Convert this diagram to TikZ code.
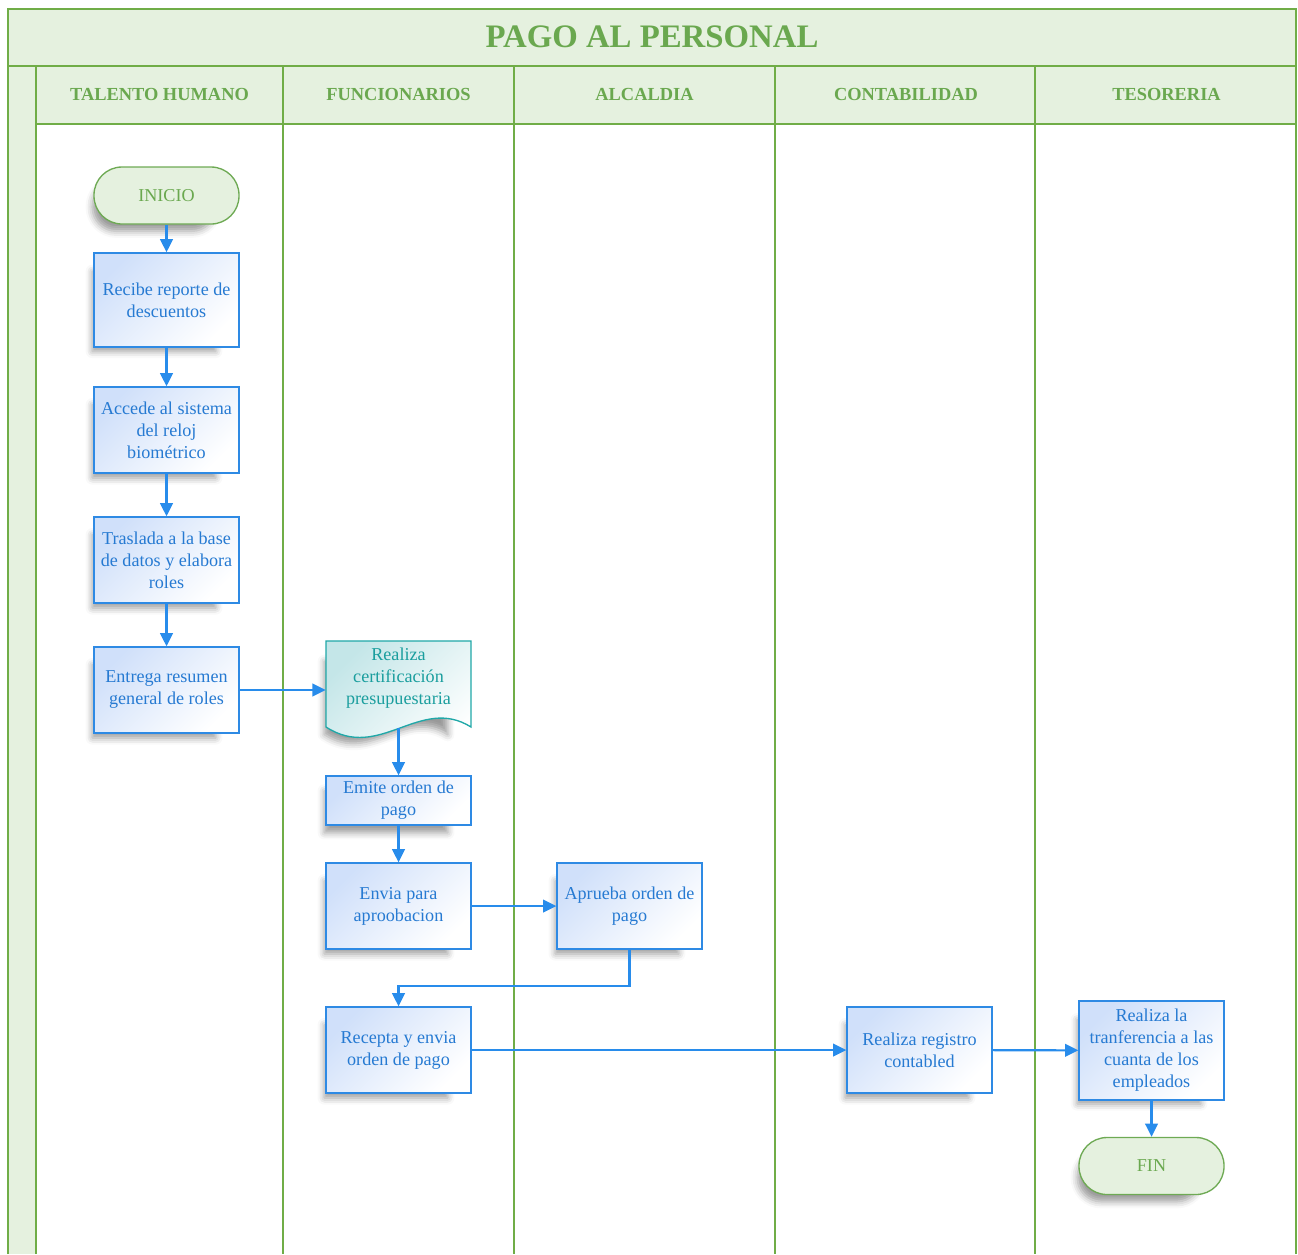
\documentclass[tikz,border=0pt]{standalone}
\usepackage{fontspec}
\setmainfont{Liberation Serif}
\usetikzlibrary{shadows.blur,arrows.meta,calc}

\definecolor{lanegreen}{RGB}{112,173,71}
\definecolor{hdrfill}{RGB}{229,241,223}
\definecolor{hdrtext}{RGB}{106,168,79}
\definecolor{boxline}{RGB}{46,138,228}
\definecolor{boxtext}{RGB}{38,122,210}
\definecolor{boxfill}{RGB}{208,224,250}
\definecolor{arrowblue}{RGB}{40,140,235}
\definecolor{tealline}{RGB}{32,168,168}
\definecolor{tealtext}{RGB}{26,158,158}
\definecolor{tealfill}{RGB}{196,230,232}
\definecolor{termline}{RGB}{110,170,84}

\begin{document}
\begin{tikzpicture}[x=0.75pt,y=-0.75pt,
  lane/.style={draw=lanegreen,line width=1.4pt},
  hdr/.style={font=\fontsize{13.8}{16}\selectfont\bfseries,text=hdrtext},
  bodyfont/.style={font=\fontsize{13.6}{16.5}\selectfont},
  softshadow/.style={blur shadow={shadow xshift=-11pt,shadow yshift=-10pt,
      shadow scale=0.85,shadow blur radius=6pt,shadow opacity=40}},
  stepbox/.style={draw=boxline,line width=1pt,left color=boxfill,right color=white,
      shading angle=45,text=boxtext,align=center,inner sep=1pt,
      minimum width=145*0.75pt,minimum height=86*0.75pt,bodyfont,softshadow},
  terminal/.style={draw=termline,line width=1pt,fill=hdrfill,text=hdrtext,
      rounded corners=21pt,minimum width=145*0.75pt,minimum height=57*0.75pt,
      bodyfont,softshadow},
  flow/.style={draw=arrowblue,line width=1.6pt,
      -{Triangle[length=10pt,width=9.5pt]}}]
\useasboundingbox (0,0) rectangle (1298,1254);

% swimlane frame
\fill[hdrfill] (8,9) rectangle (1296,124);
\fill[hdrfill] (8,124) rectangle (36,1254);
\draw[lane] (8,1254) -- (8,9) -- (1296,9) -- (1296,1254);
\draw[lane] (8,66) -- (1296,66);
\draw[lane] (36,124) -- (1296,124);
\foreach \x in {36,283,514,775,1035} \draw[lane] (\x,66) -- (\x,1254);

\node[font=\fontsize{24.6}{28}\selectfont\bfseries,text=hdrtext] (title) at (652,37) {PAGO AL PERSONAL};
\node[hdr] (h1) at (159.5,94) {TALENTO HUMANO};
\node[hdr] (h2) at (398.5,94) {FUNCIONARIOS};
\node[hdr] (h3) at (644.5,94) {ALCALDIA};
\node[hdr] (h4) at (906,94) {CONTABILIDAD};
\node[hdr] (h5) at (1166.5,94) {TESORERIA};

% Talento humano
\node[terminal] (inicio) at (166.5,195.5) {INICIO};
\node[stepbox,minimum height=94*0.75pt] (b1) at (166.5,300) {Recibe reporte de\\descuentos};
\node[stepbox] (b2) at (166.5,430) {Accede al sistema\\del reloj\\biométrico};
\node[stepbox] (b3) at (166.5,560) {Traslada a la base\\de datos y elabora\\roles};
\node[stepbox] (b4) at (166.5,690) {Entrega resumen\\general de roles};

% Funcionarios: document shape
\path[draw=tealline,line width=1pt,left color=tealfill,right color=white,shading angle=45,
      softshadow]
  (326,641) -- (471,641) -- (471,727)
  .. controls (420,695) and (380,762) .. (326,727) -- cycle;
\node[text=tealtext,align=center,inner sep=1pt,minimum width=145*0.75pt,
      minimum height=74*0.75pt,bodyfont] (doc) at (398.5,678)
  {Realiza\\certificación\\presupuestaria};
\coordinate (docb) at ($(doc.south)+(0,13)$);

\node[stepbox,minimum height=49*0.75pt] (b5) at (398.5,800.5) {Emite orden de\\pago};
\node[stepbox] (b6) at (398.5,906) {Envia para\\aproobacion};
\node[stepbox] (b7) at (398.5,1050) {Recepta y envia\\orden de pago};

% Alcaldia
\node[stepbox] (b8) at (629.5,906) {Aprueba orden de\\pago};

% Contabilidad
\node[stepbox] (b9) at (919.5,1050) {Realiza registro\\contabled};

% Tesoreria
\node[stepbox,minimum height=99*0.75pt] (b10) at (1151.5,1050.5) {Realiza la\\tranferencia a las\\cuanta de los\\empleados};
\node[terminal] (fin) at (1151.5,1166) {FIN};

% connectors
\draw[flow] (inicio) -- (b1);
\draw[flow] (b1) -- (b2);
\draw[flow] (b2) -- (b3);
\draw[flow] (b3) -- (b4);
\draw[flow] (b4.east) -- (b4.east -| doc.west);
\draw[flow] (docb) -- (b5.north);
\draw[flow] (b5) -- (b6);
\draw[flow] (b6) -- (b8);
\draw[flow] (b8.south) -- ++(0,36) -| (b7.north);
\draw[flow] (b7) -- (b9);
\draw[flow] (b9) -- (b10);
\draw[flow] (b10) -- (fin);
\end{tikzpicture}
\end{document}
